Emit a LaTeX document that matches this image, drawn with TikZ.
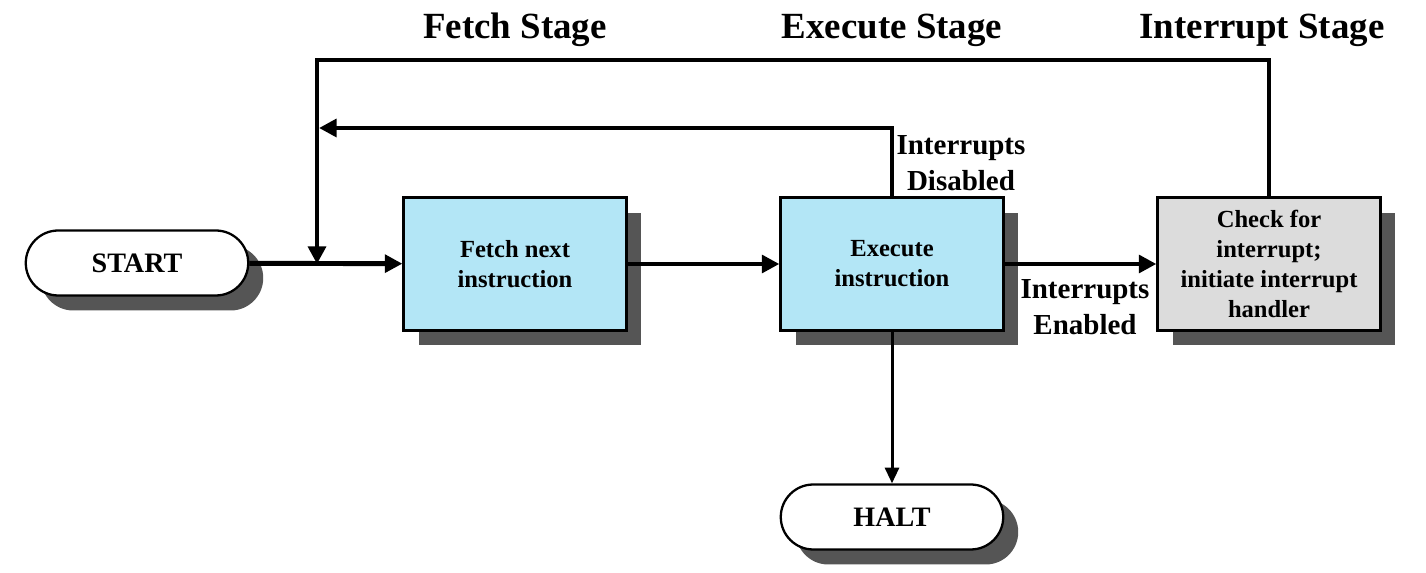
\documentclass[tikz,border=0pt]{standalone}
\usepackage{fontspec}
\setmainfont{Liberation Serif}
\usetikzlibrary{arrows.meta,shadows}

\definecolor{boxblau}{HTML}{B3E6F6}
\definecolor{boxgrau}{HTML}{DCDCDC}
\definecolor{schatten}{HTML}{555555}

\tikzset{
    schattig/.style={drop shadow={shadow xshift=0.3cm,shadow yshift=-0.3cm,fill=schatten,opacity=1}},
    kasten/.style={draw,line width=1.6pt,minimum width=4.45cm,minimum height=2.66cm,align=center,
        font=\bfseries\fontsize{14}{17}\selectfont,schattig},
    terminal/.style={draw,line width=1.3pt,rounded corners=0.65cm,minimum width=4.45cm,minimum height=1.3cm,
        fill=white,font=\bfseries\fontsize{16}{19}\selectfont,schattig},
    linie/.style={line width=2.8pt},
    pfeil/.style={line width=2.8pt,-{Triangle[length=10pt,width=10pt]}},
    etikett/.style={font=\bfseries\fontsize{16.5}{20.4}\selectfont,align=center},
    titel/.style={font=\bfseries\fontsize{21}{25}\selectfont}
}

\begin{document}
\begin{tikzpicture}[x=0.02cm,y=-0.02cm]
    \useasboundingbox (0,0) rectangle (1426,573);

    % Stufen
    \node[titel] (tfetch) at (515,30) {Fetch Stage};
    \node[titel] (texec) at (892,30) {Execute Stage};
    \node[titel] (tint) at (1262,30) {Interrupt Stage};

    % Kaesten
    \node[terminal] (start) at (137,263) {START};
    \node[kasten,fill=boxblau] (fetch) at (515,264) {Fetch next\\instruction};
    \node[kasten,fill=boxblau] (exec) at (892,264) {Execute\\instruction};
    \node[kasten,fill=boxgrau] (check) at (1269,264) {Check for\\interrupt;\\initiate interrupt\\handler};
    \node[terminal] (halt) at (892,517) {HALT};

    % Hilfspunkte
    \coordinate (merge) at (317,264);
    \coordinate (ecke) at (317,60);
    \coordinate (innen) at (319,128);

    % Verbindungen
    \draw[pfeil] (start) -- (fetch);
    \draw[pfeil] (fetch) -- (exec);
    \draw[pfeil] (exec) -- (check);
    \draw[line width=1.7pt,-{Triangle[length=9pt,width=8pt]}] (exec) -- (halt);
    \draw[pfeil] (check.north) |- (ecke) -- (merge);
    \draw[pfeil] (exec.north) |- (innen);

    % Beschriftungen
    \node[etikett] (dis) at (961,163) {Interrupts\\Disabled};
    \node[etikett] (ena) at (1085,307) {Interrupts\\Enabled};
\end{tikzpicture}
\end{document}
